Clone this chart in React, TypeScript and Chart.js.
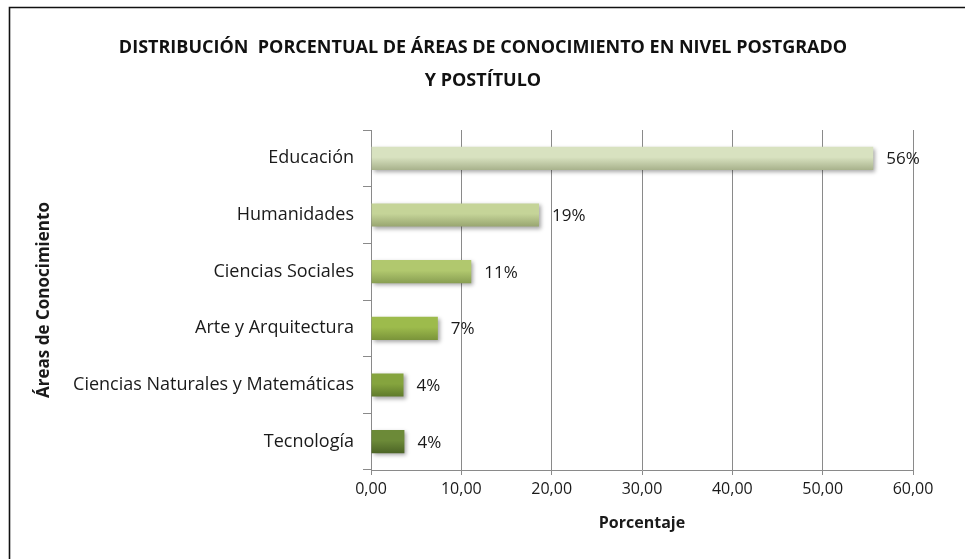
import React, { useEffect, useRef } from "react";
import { Chart, registerables } from "chart.js";

Chart.register(...registerables);

const categories = [
  "Educación",
  "Humanidades",
  "Ciencias Sociales",
  "Arte y Arquitectura",
  "Ciencias Naturales y Matemáticas",
  "Tecnología",
];
const values = [55.6, 18.6, 11.1, 7.4, 3.6, 3.7];
const titleLines = [
  "DISTRIBUCIÓN  PORCENTUAL DE ÁREAS DE CONOCIMIENTO EN NIVEL POSTGRADO",
  "Y POSTÍTULO",
];
const xTitle = "Porcentaje";
const yTitle = "Áreas de Conocimiento";

const palTop = ["#d8e2c0", "#c5d498", "#b1c86e", "#9dbb4c", "#85a43e", "#6c8a38"];
const palBottom = ["#a8b28c", "#98a570", "#889e52", "#7a943a", "#5f7a2b", "#4c6426"];

const FONT = "'Open Sans', 'Noto Sans', sans-serif";

export default function App() {
  const ref = useRef<HTMLCanvasElement | null>(null);
  useEffect(() => {
    if (!ref.current) return;
    const decor = {
      id: "decor",
      beforeDraw(chart: any) {
        const ctx = chart.ctx;
        ctx.save();
        ctx.fillStyle = "#ffffff";
        ctx.fillRect(0, 0, chart.width, chart.height);
        ctx.strokeStyle = "#111";
        ctx.lineWidth = 1.6;
        ctx.beginPath();
        ctx.moveTo(9.5, chart.height + 2);
        ctx.lineTo(9.5, 7.5);
        ctx.lineTo(chart.width + 2, 7.5);
        ctx.stroke();
        ctx.fillStyle = "#111";
        ctx.font = `bold 18px ${FONT}`;
        ctx.textAlign = "center";
        ctx.textBaseline = "middle";
        ctx.fillText(titleLines[0], 483, 48);
        ctx.fillText(titleLines[1], 483, 81);
        ctx.restore();
      },
      beforeDatasetsDraw(chart: any) {
        const ctx = chart.ctx;
        ctx.save();
        ctx.shadowColor = "rgba(0,0,0,0.35)";
        ctx.shadowBlur = 4;
        ctx.shadowOffsetX = 2;
        ctx.shadowOffsetY = 2;
      },
      afterDatasetsDraw(chart: any) {
        const ctx = chart.ctx;
        ctx.restore();
        const meta = chart.getDatasetMeta(0);
        ctx.save();
        ctx.fillStyle = "#1a1a1a";
        ctx.font = `17px ${FONT}`;
        ctx.textAlign = "left";
        ctx.textBaseline = "middle";
        meta.data.forEach((el: any, i: number) => {
          ctx.fillText(Math.round(values[i]) + "%", el.x + 13, el.y + 1);
        });
        ctx.restore();
      },
    };
    const barPct = 0.41;
    const chart = new Chart(ref.current, {
      type: "bar",
      data: {
        labels: categories,
        datasets: [
          {
            data: values,
            barPercentage: barPct,
            categoryPercentage: 1,
            borderWidth: 0,
            backgroundColor: (c: any) => {
              const ch = c.chart;
              const i = c.dataIndex ?? 0;
              const ys = ch.scales && ch.scales.y;
              if (!ys || ys.height == null || !isFinite(ys.getPixelForValue(i))) return palTop[i];
              const cy = ys.getPixelForValue(i);
              const h = (ys.height / categories.length) * barPct;
              const g = ch.ctx.createLinearGradient(0, cy - h / 2, 0, cy + h / 2);
              g.addColorStop(0, palTop[i]);
              g.addColorStop(0.45, palTop[i]);
              g.addColorStop(1, palBottom[i]);
              return g;
            },
          },
        ],
      },
      options: {
        indexAxis: "y",
        animation: false,
        responsive: false,
        layout: { padding: { top: 130, left: 0, right: 52, bottom: 0 } },
        plugins: {
          legend: { display: false },
          title: { display: false },
          tooltip: { enabled: false },
        },
        scales: {
          x: {
            min: 0,
            max: 60,
            ticks: {
              stepSize: 10,
              color: "#1a1a1a",
              font: { family: FONT, size: 16 },
              padding: 5,
              callback: (v: any) => Number(v).toFixed(2).replace(".", ","),
            },
            grid: { color: "#8a8a8a", lineWidth: 1, tickLength: 5 },
            border: { color: "#8a8a8a", width: 1 },
            title: {
              display: true,
              text: xTitle,
              color: "#1a1a1a",
              font: { family: FONT, size: 16, weight: "bold" },
              padding: { top: 0, bottom: 26 },
            },
            afterFit: (s: any) => {
              s.height = 89;
            },
          },
          y: {
            ticks: {
              color: "#1a1a1a",
              font: { family: FONT, size: 18 },
              padding: 9,
            },
            grid: { drawOnChartArea: false, drawTicks: true, tickLength: 8, color: "#8a8a8a" },
            border: { color: "#8a8a8a", width: 1 },
            title: {
              display: true,
              text: yTitle,
              color: "#1a1a1a",
              font: { family: FONT, size: 17, weight: "bold" },
              padding: { top: 34, bottom: 0 },
            },
            afterFit: (s: any) => {
              s.width = 371;
            },
          },
        },
      },
      plugins: [decor],
    } as any);
    return () => chart.destroy();
  }, []);
  return (
    <div style={{ position: "absolute", left: 0, top: 0, width: 965, height: 559, overflow: "hidden" }}>
      <canvas ref={ref} width={965} height={559} style={{ display: "block" }} />
    </div>
  );
}
